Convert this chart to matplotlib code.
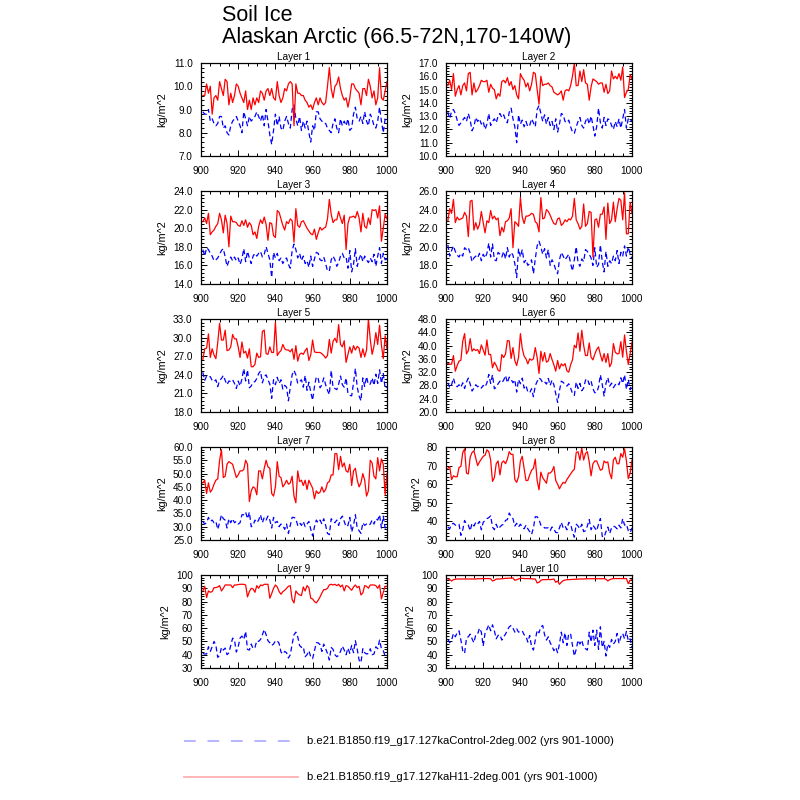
import numpy as np
import matplotlib
matplotlib.use("Agg")
import matplotlib.pyplot as plt
from matplotlib.ticker import MultipleLocator, FormatStrFormatter

plt.rcParams['font.family'] = ['Liberation Sans', 'DejaVu Sans']

years = np.arange(901, 1001)

# Layer 1
l1_h11 = [9.6, 9.6, 10.1, 9.7, 10.0, 8.8, 9.5, 9.6, 9.4, 10.2,
          9.9, 9.6, 10.3, 10.2, 9.2, 9.7, 9.3, 9.6, 10.1, 10.0,
          9.7, 9.5, 9.3, 9.8, 9.0, 9.4, 9.0, 9.5, 9.2, 9.5,
          9.3, 9.8, 9.7, 9.4, 9.8, 9.9, 9.6, 9.9, 9.5, 9.4,
          10.2, 9.6, 9.3, 9.5, 9.9, 9.8, 10.1, 10.2, 10.1, 8.3,
          10.1, 9.7, 9.7, 9.6, 9.6, 9.4, 9.3, 9.1, 9.2, 9.0,
          9.3, 9.5, 9.2, 9.5, 9.3, 9.2, 9.3, 10.0, 10.8, 9.9,
          9.5, 10.0, 10.1, 10.4, 9.9, 9.6, 9.4, 9.5, 9.1, 9.5,
          10.1, 10.1, 9.9, 9.8, 9.7, 9.2, 9.9, 9.9, 9.6, 10.3,
          10.0, 9.5, 9.8, 9.2, 9.5, 10.8, 9.5, 9.4, 9.8, 10.2]
l1_ctl = [8.9, 8.8, 8.8, 9.0, 8.5, 8.6, 8.4, 8.3, 8.4, 8.7,
          8.7, 8.2, 8.3, 8.0, 7.9, 8.3, 8.5, 8.6, 8.7, 8.5,
          8.3, 8.0, 8.9, 8.6, 8.3, 8.7, 8.5, 8.6, 8.7, 8.9,
          8.7, 8.5, 8.8, 8.3, 9.0, 8.5, 7.9, 7.5, 8.1, 8.8,
          8.3, 8.7, 8.2, 8.1, 8.5, 8.7, 8.4, 8.2, 9.0, 9.2,
          8.6, 8.3, 8.7, 8.1, 8.5, 8.2, 8.5, 8.0, 7.6, 8.3,
          8.1, 8.9, 8.9, 8.6, 8.5, 8.4, 8.4, 8.2, 8.1, 8.0,
          8.4, 8.6, 8.2, 8.0, 8.6, 8.3, 8.5, 8.3, 8.6, 8.1,
          8.2, 8.8, 9.1, 8.6, 8.5, 8.7, 8.4, 8.9, 8.5, 8.3,
          8.8, 8.6, 8.3, 8.2, 8.5, 9.1, 8.5, 8.0, 8.6, 8.5]

# Layer 2
l2_h11 = [15.3, 15.7, 15.0, 16.2, 14.5, 15.0, 15.3, 14.6, 15.3, 15.5,
          14.9, 16.2, 16.3, 14.6, 15.5, 14.8, 15.0, 15.3, 15.7, 15.6,
          15.6, 15.7, 14.8, 15.4, 15.1, 15.0, 14.3, 14.7, 14.5, 15.6,
          15.7, 15.5, 15.9, 15.3, 15.6, 15.0, 15.3, 14.6, 14.3, 16.2,
          15.9, 15.7, 15.2, 15.5, 14.9, 15.4, 16.3, 16.2, 15.0, 13.9,
          16.0, 15.3, 15.4, 15.4, 15.5, 15.3, 15.2, 14.8, 14.7, 14.6,
          14.7, 14.9, 14.2, 14.9, 15.0, 14.9, 15.3, 16.0, 17.0, 15.3,
          15.3, 16.4, 15.6, 16.5, 15.5, 15.4, 14.2, 15.2, 15.8, 15.7,
          15.6, 15.4, 15.5, 15.5, 14.8, 15.4, 14.7, 14.9, 16.4, 15.8,
          16.0, 15.8, 16.2, 15.7, 16.7, 14.4, 14.8, 15.0, 16.1, 15.8]
l2_ctl = [13.3, 12.8, 13.4, 13.5, 13.2, 12.7, 12.3, 12.5, 12.7, 12.9,
          12.6, 13.2, 12.7, 11.9, 12.2, 12.9, 12.6, 12.8, 12.4, 12.6,
          12.0, 12.4, 13.2, 12.3, 12.6, 12.8, 12.5, 13.0, 13.2, 12.9,
          13.1, 12.7, 12.5, 13.3, 13.6, 12.8, 12.2, 11.0, 13.1, 12.4,
          12.7, 12.2, 12.6, 12.2, 12.3, 12.8, 12.5, 12.2, 13.5, 13.8,
          13.2, 12.6, 13.1, 12.4, 12.9, 12.3, 12.6, 12.0, 12.8, 11.8,
          12.4, 13.2, 13.1, 12.6, 12.5, 12.7, 12.2, 11.8, 11.7, 12.2,
          12.6, 12.9, 12.3, 12.1, 12.6, 12.9, 12.4, 13.0, 12.3, 11.5,
          12.2, 13.6, 12.5, 12.1, 12.9, 12.3, 12.8, 12.7, 12.3, 12.0,
          12.6, 12.2, 12.8, 12.1, 12.8, 13.5, 12.1, 12.8, 12.6, 12.7]

# Layer 3
l3_h11 = [20.7, 21.1, 20.5, 21.6, 19.3, 19.6, 19.8, 20.2, 20.5, 21.6,
          20.9, 19.5, 21.4, 20.5, 18.0, 21.3, 20.7, 20.7, 20.6, 20.3,
          20.2, 20.8, 20.3, 20.9, 20.1, 20.6, 20.3, 19.3, 19.6, 18.9,
          20.2, 20.9, 20.5, 21.2, 20.4, 18.7, 20.6, 20.5, 19.2, 19.0,
          21.9, 21.7, 21.0, 20.3, 19.8, 20.7, 20.5, 21.0, 20.8, 18.5,
          22.1, 20.3, 20.1, 20.7, 20.8, 20.4, 20.0, 19.7, 19.4, 19.3,
          19.9, 18.8, 19.5, 20.1, 19.8, 20.0, 20.1, 21.0, 23.1, 21.5,
          20.6, 20.9, 20.9, 21.8, 21.1, 20.5, 21.4, 17.7, 20.5, 21.2,
          21.2, 21.3, 21.1, 21.8, 21.1, 19.6, 21.6, 20.2, 20.0, 21.1,
          20.4, 22.0, 21.9, 22.0, 21.1, 22.4, 18.6, 20.0, 21.5, 21.0]
l3_ctl = [17.7, 17.0, 17.9, 17.7, 17.3, 17.0, 16.5, 16.6, 16.8, 17.2,
          17.6, 17.8, 16.9, 15.9, 16.5, 16.9, 16.5, 16.9, 16.5, 16.8,
          16.1, 16.7, 17.8, 16.4, 17.5, 16.8, 16.2, 17.0, 17.3, 17.0,
          17.3, 17.5, 16.9, 17.2, 18.0, 17.3, 16.6, 14.7, 17.4, 16.8,
          17.3, 16.5, 16.8, 16.2, 16.6, 16.8, 16.1, 15.7, 17.6, 18.3,
          17.7, 16.8, 17.3, 16.5, 17.0, 16.2, 16.5, 15.8, 17.0, 15.9,
          16.7, 17.4, 17.3, 16.6, 16.5, 16.9, 16.2, 15.4, 15.4, 16.6,
          17.0, 16.6, 15.9, 16.3, 17.0, 17.3, 16.8, 16.9, 15.7, 17.6,
          15.3, 16.1, 17.8, 15.9, 16.7, 17.2, 16.4, 17.0, 16.6, 16.3,
          16.8, 16.4, 17.2, 15.9, 17.0, 17.9, 16.2, 17.3, 16.6, 16.7]

# Layer 4
l4_h11 = [22.8, 24.1, 23.6, 25.1, 22.6, 23.2, 22.9, 23.0, 23.1, 23.7,
          23.3, 21.1, 24.9, 25.0, 21.8, 22.6, 21.9, 22.4, 23.8, 22.6,
          21.5, 22.8, 22.6, 23.9, 23.0, 23.3, 22.9, 23.1, 21.2, 22.1,
          21.6, 22.7, 22.8, 23.1, 24.1, 19.9, 22.7, 22.5, 22.2, 25.3,
          23.2, 22.5, 23.3, 23.3, 23.4, 23.6, 23.5, 22.7, 22.5, 21.6,
          25.3, 23.0, 23.1, 24.0, 23.8, 23.4, 22.9, 22.5, 22.4, 23.0,
          23.1, 22.3, 22.5, 22.9, 22.7, 23.0, 22.9, 23.3, 25.2, 22.9,
          22.5, 21.9, 22.2, 24.6, 22.2, 22.5, 23.8, 23.7, 18.9, 22.9,
          23.0, 22.1, 23.5, 23.5, 24.3, 20.8, 24.7, 22.5, 22.9, 24.8,
          22.7, 24.1, 25.2, 25.0, 22.9, 25.8, 21.4, 21.4, 24.8, 23.6]
l4_ctl = [20.2, 19.0, 19.6, 20.1, 19.5, 19.1, 18.9, 19.3, 19.0, 19.9,
          19.7, 19.9, 19.3, 18.4, 18.8, 19.0, 18.8, 19.3, 18.5, 19.2,
          18.8, 19.3, 20.4, 18.9, 20.3, 18.6, 18.5, 19.4, 19.2, 18.9,
          19.5, 18.7, 19.9, 18.9, 19.4, 19.1, 18.2, 16.7, 19.8, 18.9,
          19.7, 18.3, 18.6, 18.0, 18.2, 18.6, 17.1, 18.7, 20.1, 20.6,
          20.0, 19.2, 19.8, 18.8, 19.7, 18.0, 18.6, 18.2, 17.5, 17.1,
          18.6, 19.4, 19.0, 18.6, 18.9, 19.2, 18.2, 17.4, 18.6, 20.0,
          18.3, 17.9, 18.7, 18.4, 19.7, 19.5, 19.2, 18.8, 18.0, 19.9,
          17.8, 18.1, 20.2, 18.4, 17.3, 19.5, 17.9, 18.5, 18.2, 19.0,
          18.5, 19.6, 18.2, 19.4, 19.0, 20.1, 19.0, 20.0, 19.2, 18.7]

# Layer 5
l5_h11 = [26.5, 28.2, 28.3, 30.6, 26.8, 28.2, 27.2, 26.6, 29.2, 32.3,
          29.6, 29.6, 31.2, 27.9, 28.0, 28.5, 30.5, 29.8, 29.8, 28.5,
          26.8, 29.3, 27.5, 27.8, 26.7, 28.2, 25.3, 25.3, 25.7, 27.5,
          26.8, 26.9, 31.0, 31.2, 27.4, 27.3, 28.5, 27.6, 27.6, 32.5,
          27.1, 27.6, 27.9, 28.9, 28.2, 28.0, 28.0, 27.7, 28.2, 26.5,
          28.7, 26.2, 27.3, 27.5, 27.3, 27.9, 28.3, 26.3, 27.2, 29.6,
          27.7, 27.6, 27.6, 27.6, 27.4, 27.1, 26.7, 27.1, 29.7, 27.5,
          29.4, 29.9, 29.2, 32.1, 28.9, 28.5, 29.5, 26.0, 27.3, 28.5,
          27.5, 28.7, 28.0, 28.6, 28.3, 26.8, 28.2, 26.9, 28.0, 33.0,
          29.7, 27.3, 28.6, 30.8, 28.9, 32.0, 28.8, 26.6, 30.3, 28.2]
l5_ctl = [24.4, 23.1, 23.8, 23.6, 23.7, 23.1, 22.9, 23.2, 22.1, 23.1,
          23.4, 23.9, 23.1, 22.4, 23.0, 22.9, 23.2, 22.6, 21.8, 23.0,
          22.2, 23.3, 25.0, 23.0, 24.8, 21.9, 22.2, 22.8, 22.9, 23.4,
          24.2, 24.6, 22.7, 23.7, 24.0, 23.2, 22.5, 20.2, 23.2, 22.4,
          23.6, 22.6, 23.2, 21.7, 22.3, 22.0, 19.8, 22.0, 24.0, 24.7,
          24.0, 22.6, 22.9, 23.2, 22.0, 23.9, 21.5, 22.8, 21.2, 19.9,
          22.1, 23.7, 23.4, 21.9, 22.4, 23.5, 22.4, 21.5, 20.8, 24.7,
          21.9, 21.8, 21.6, 22.5, 23.8, 22.4, 22.0, 23.5, 21.0, 20.7,
          20.6, 22.7, 25.0, 22.0, 20.6, 19.8, 23.5, 22.1, 23.7, 22.4,
          22.5, 23.5, 22.3, 24.1, 22.6, 24.8, 22.6, 24.2, 21.8, 22.1]

# Layer 6
l6_h11 = [34.6, 34.4, 34.4, 37.0, 32.3, 34.0, 35.3, 35.6, 41.3, 43.6,
          37.5, 38.5, 42.1, 38.3, 39.0, 38.5, 38.8, 37.6, 40.2, 38.7,
          37.1, 41.7, 37.3, 37.3, 33.3, 35.0, 34.0, 32.6, 32.3, 37.3,
          36.4, 37.5, 41.5, 41.4, 36.1, 39.4, 35.5, 34.0, 36.5, 43.6,
          39.1, 36.8, 36.0, 34.5, 36.0, 35.6, 36.0, 39.4, 36.4, 31.6,
          38.3, 35.3, 37.9, 35.0, 35.4, 37.6, 35.8, 34.2, 32.3, 35.5,
          33.0, 34.5, 33.9, 34.6, 32.4, 32.0, 34.2, 35.7, 40.1, 39.3,
          43.8, 38.3, 44.6, 40.1, 37.0, 37.0, 40.8, 36.5, 35.7, 37.4,
          38.8, 39.6, 37.3, 35.3, 37.6, 34.9, 37.6, 33.6, 34.8, 40.6,
          38.0, 37.5, 37.6, 41.2, 36.5, 43.2, 38.2, 34.3, 37.5, 41.0]
l6_ctl = [28.8, 27.3, 28.2, 30.2, 28.1, 27.6, 28.2, 27.4, 28.8, 27.1,
          29.0, 30.2, 28.4, 26.3, 27.2, 28.2, 27.6, 27.9, 27.2, 28.0,
          27.5, 28.8, 31.3, 28.6, 31.2, 27.0, 27.4, 28.5, 29.3, 28.8,
          29.6, 31.0, 28.8, 30.5, 29.8, 28.8, 29.7, 26.0, 29.8, 28.5,
          30.2, 27.2, 28.0, 26.0, 25.8, 27.0, 24.6, 27.9, 29.2, 30.3,
          29.8, 28.8, 29.1, 28.4, 30.1, 28.0, 29.6, 28.2, 25.5, 22.9,
          26.4, 29.3, 28.9, 28.3, 27.8, 28.5, 27.2, 25.6, 25.0, 29.0,
          27.1, 28.6, 26.4, 27.2, 29.6, 30.0, 28.3, 29.3, 27.0, 25.8,
          25.9, 27.5, 31.2, 28.3, 24.8, 28.6, 30.4, 27.8, 28.7, 27.3,
          28.2, 28.8, 28.2, 30.3, 28.6, 31.2, 26.8, 29.8, 26.7, 28.5]

# Layer 7
l7_h11 = [46.5, 47.5, 42.5, 46.5, 43.0, 44.0, 46.0, 47.5, 48.0, 55.0,
          59.0, 48.5, 49.0, 53.5, 54.5, 54.0, 53.5, 51.0, 48.5, 49.5,
          51.0, 51.0, 51.5, 55.0, 53.5, 39.5, 43.5, 45.0, 44.5, 42.0,
          51.0, 51.0, 48.0, 52.0, 55.0, 52.5, 52.0, 42.5, 41.5, 45.0,
          54.5, 49.0, 48.5, 45.0, 46.0, 47.5, 46.0, 46.5, 49.0, 41.5,
          39.0, 51.0, 47.0, 47.5, 45.5, 47.5, 44.0, 47.5, 46.0, 44.5,
          40.5, 43.5, 42.5, 43.0, 45.0, 43.0, 44.0, 46.5, 47.0, 49.5,
          49.5, 57.5, 57.5, 51.5, 56.5, 52.5, 54.0, 51.0, 50.5, 53.5,
          45.5, 51.0, 52.0, 47.5, 45.0, 46.5, 50.0, 47.5, 41.5, 43.5,
          55.0, 54.0, 49.0, 48.0, 56.0, 51.0, 55.5, 53.5, 42.0, 50.0]
l7_ctl = [32.0, 31.0, 31.5, 33.5, 32.0, 32.5, 31.5, 32.0, 29.0, 31.5,
          34.5, 33.0, 32.5, 29.5, 33.0, 31.5, 33.0, 31.5, 32.0, 31.0,
          31.5, 34.5, 34.5, 35.5, 33.0, 35.5, 30.0, 30.5, 32.5, 31.5,
          32.5, 34.5, 31.5, 33.5, 32.5, 34.0, 32.5, 29.5, 33.5, 31.5,
          32.0, 30.0, 31.0, 30.5, 29.0, 31.0, 27.5, 30.5, 33.5, 33.5,
          33.0, 30.5, 31.5, 30.5, 32.0, 30.0, 31.0, 32.0, 29.0, 26.5,
          30.0, 32.5, 31.5, 32.5, 31.0, 33.0, 30.5, 27.5, 27.0, 33.0,
          32.0, 31.5, 32.5, 30.5, 33.0, 34.0, 32.0, 30.0, 30.5, 33.5,
          28.0, 30.5, 34.5, 29.5, 28.5, 27.5, 31.5, 30.5, 31.0, 30.5,
          31.0, 32.5, 31.0, 33.0, 32.5, 34.5, 29.5, 34.0, 29.5, 30.0]

# Layer 8
l8_h11 = [68.5, 69.5, 62.5, 64.5, 64.0, 64.0, 69.0, 69.5, 77.0, 79.0,
          66.0, 65.5, 74.5, 77.0, 78.0, 74.0, 70.0, 72.0, 73.5, 75.0,
          75.5, 78.5, 77.5, 73.0, 61.5, 63.5, 71.0, 72.5, 65.0, 71.5,
          72.5, 71.0, 73.5, 77.5, 76.0, 76.0, 62.5, 61.0, 64.0, 72.5,
          75.0, 68.5, 62.0, 62.0, 65.0, 67.5, 68.5, 73.5, 62.0, 57.0,
          66.5, 63.5, 62.0, 60.5, 66.0, 66.0, 67.0, 69.5, 62.0, 60.0,
          57.5, 59.5, 61.0, 60.5, 62.5, 64.0, 65.5, 67.0, 68.0, 77.0,
          77.5, 73.0, 79.5, 73.0, 76.5, 77.5, 72.0, 64.5, 71.0, 72.5,
          72.5, 70.0, 67.5, 68.0, 72.5, 71.5, 72.0, 66.0, 63.0, 73.0,
          74.5, 71.0, 71.0, 76.5, 74.5, 79.0, 72.5, 63.0, 66.0, 73.0]
l8_ctl = [37.0, 36.0, 38.5, 39.0, 38.0, 38.0, 38.5, 32.5, 35.5, 40.5,
          38.5, 38.0, 35.0, 39.0, 37.5, 39.5, 38.5, 40.0, 35.5, 39.5,
          40.5, 41.5, 42.0, 43.0, 37.0, 35.5, 38.5, 36.0, 37.0, 38.0,
          38.5, 40.5, 41.0, 44.5, 42.5, 41.5, 37.5, 39.0, 37.0, 38.5,
          37.0, 36.0, 38.0, 36.0, 34.5, 33.0, 36.5, 42.5, 42.5, 41.0,
          38.0, 37.5, 36.5, 36.5, 36.5, 35.0, 37.0, 36.0, 34.0, 34.0,
          36.5, 39.5, 36.5, 37.5, 35.5, 39.5, 38.5, 34.5, 31.5, 38.5,
          37.5, 36.0, 38.5, 34.5, 35.0, 37.5, 41.0, 35.5, 38.0, 36.5,
          35.0, 38.5, 41.5, 32.0, 31.5, 34.5, 37.0, 33.5, 36.5, 37.5,
          37.0, 36.0, 38.0, 36.5, 41.5, 38.0, 38.5, 35.0, 34.0, 36.5]

# Layer 9
l9_h11 = [88.0, 91.5, 83.0, 88.0, 87.0, 87.5, 90.5, 90.5, 91.0, 92.0,
          88.0, 90.0, 92.5, 92.5, 92.5, 92.5, 90.5, 92.5, 92.5, 92.8,
          93.0, 93.0, 93.0, 92.5, 83.5, 87.5, 90.0, 89.5, 87.0, 92.0,
          90.0, 92.5, 92.0, 93.0, 93.0, 93.0, 82.5, 86.0, 90.0, 92.5,
          91.0, 87.5, 85.5, 87.5, 88.5, 90.0, 91.5, 92.0, 81.5, 79.0,
          88.0, 86.0, 85.0, 84.5, 91.0, 88.0, 92.0, 90.5, 82.5, 82.0,
          80.0, 79.0, 81.0, 83.5, 86.5, 89.0, 89.0, 90.0, 92.5, 93.0,
          92.5, 93.0, 92.0, 93.0, 91.0, 92.5, 88.0, 92.0, 91.5, 90.0,
          88.5, 91.0, 92.5, 90.5, 91.5, 85.0, 86.5, 92.0, 91.5, 90.0,
          92.5, 92.5, 92.5, 92.0, 90.0, 92.5, 82.0, 87.0, 91.5, 91.5]
l9_ctl = [41.0, 40.5, 40.5, 46.0, 42.5, 46.0, 50.0, 47.0, 38.0, 39.5,
          45.5, 43.5, 45.0, 40.0, 41.5, 47.0, 52.5, 51.0, 42.0, 46.0,
          52.5, 54.0, 51.5, 57.5, 44.0, 43.5, 48.0, 44.5, 45.5, 50.5,
          50.0, 51.5, 55.0, 59.0, 55.0, 50.5, 49.0, 47.0, 48.0, 50.5,
          50.5, 48.5, 42.0, 40.5, 42.5, 41.5, 37.5, 40.0, 48.0, 55.0,
          57.0, 53.5, 47.0, 45.5, 46.0, 38.5, 40.0, 43.0, 38.5, 37.0,
          43.0, 49.0, 49.0, 47.5, 42.5, 48.0, 44.5, 41.0, 36.0, 45.5,
          44.0, 40.0, 38.5, 39.5, 42.5, 46.5, 43.5, 40.0, 45.0, 41.0,
          47.0, 41.5, 50.5, 44.0, 36.0, 34.0, 44.5, 41.5, 40.5, 41.0,
          44.5, 40.0, 40.5, 46.0, 44.5, 51.0, 44.5, 43.0, 39.0, 38.5]

# Layer 10
l10_h11 = [97.0, 96.5, 95.5, 96.5, 96.8, 97.0, 97.0, 97.0, 97.0, 97.0,
           97.0, 97.0, 97.0, 97.0, 97.0, 97.0, 97.2, 97.2, 97.2, 97.3,
           97.3, 97.3, 97.3, 97.2, 95.5, 96.0, 97.0, 97.0, 97.0, 97.2,
           97.3, 97.5, 97.5, 97.6, 97.7, 97.8, 96.0, 96.5, 97.0, 97.5,
           97.5, 97.3, 97.3, 97.3, 97.2, 97.2, 97.0, 97.0, 94.0, 94.5,
           96.0, 96.5, 96.5, 96.5, 96.7, 96.5, 96.7, 97.0, 94.5, 95.5,
           93.0, 94.5, 95.8, 96.2, 96.5, 96.5, 96.6, 96.7, 96.8, 96.8,
           96.9, 97.0, 97.0, 97.0, 97.1, 97.2, 97.2, 97.2, 97.2, 97.2,
           97.2, 97.2, 97.2, 97.2, 97.3, 96.8, 95.5, 96.5, 97.0, 97.3,
           97.3, 97.3, 97.3, 97.3, 97.3, 97.3, 97.3, 93.5, 96.0, 96.5]
l10_ctl = [51.5, 49.0, 51.0, 56.0, 53.5, 56.5, 58.0, 51.0, 43.0, 41.0,
           52.5, 53.5, 55.5, 52.0, 49.0, 55.0, 55.5, 60.0, 57.0, 46.5,
           56.5, 59.0, 62.5, 58.0, 62.5, 58.0, 52.0, 54.5, 55.0, 51.0,
           53.5, 55.5, 58.5, 61.0, 62.0, 60.0, 57.0, 59.5, 57.0, 57.5,
           58.0, 55.0, 54.0, 49.5, 54.5, 46.0, 43.5, 51.0, 58.5, 56.5,
           61.0, 62.0, 55.0, 51.0, 53.5, 49.0, 46.5, 43.0, 45.5, 41.5,
           48.0, 57.0, 49.0, 56.5, 47.0, 56.0, 55.5, 47.0, 39.0, 44.0,
           51.0, 48.0, 51.0, 45.5, 44.5, 43.5, 57.0, 49.5, 58.5, 47.0,
           58.5, 44.0, 61.0, 45.5, 50.0, 39.0, 48.0, 45.5, 51.5, 48.0,
           50.0, 56.0, 48.5, 53.5, 56.0, 52.0, 57.5, 50.5, 52.0, 45.0]

h11_series = [l1_h11, l2_h11, l3_h11, l4_h11, l5_h11, l6_h11, l7_h11, l8_h11, l9_h11, l10_h11]
ctl_series = [l1_ctl, l2_ctl, l3_ctl, l4_ctl, l5_ctl, l6_ctl, l7_ctl, l8_ctl, l9_ctl, l10_ctl]

# y axis (min, max, major step, label format)
y_ranges = [(7.0, 11.0, 1.0, '%.1f'), (10.0, 17.0, 1.0, '%.1f'),
            (14.0, 24.0, 2.0, '%.1f'), (16.0, 26.0, 2.0, '%.1f'),
            (18.0, 33.0, 3.0, '%.1f'), (20.0, 48.0, 4.0, '%.1f'),
            (25.0, 60.0, 5.0, '%.1f'), (30, 80, 10, '%d'),
            (30, 100, 10, '%d'), (30, 100, 10, '%d')]

ctl_name = "b.e21.B1850.f19_g17.127kaControl-2deg.002 (yrs 901-1000)"
h11_name = "b.e21.B1850.f19_g17.127kaH11-2deg.001 (yrs 901-1000)"

fig = plt.figure(figsize=(8, 8), dpi=100)

W, H = 800.0, 800.0
col_left = [201, 446]
row_top = [63, 191, 319, 447, 575]
pw, ph = 186, 93

for i in range(10):
    r, c = i // 2, i % 2
    ax = fig.add_axes([col_left[c] / W, 1 - (row_top[r] + ph) / H, pw / W, ph / H])
    ax.plot(years, ctl_series[i], color='blue', lw=0.9, dashes=(4, 2.5))
    ax.plot(years, h11_series[i], color='red', lw=0.9)
    ymin, ymax, step, fmt = y_ranges[i]
    ax.set_xlim(900, 1000)
    ax.set_ylim(ymin, ymax)
    ax.xaxis.set_major_locator(MultipleLocator(20))
    ax.xaxis.set_minor_locator(MultipleLocator(5))
    ax.yaxis.set_major_locator(MultipleLocator(step))
    ax.yaxis.set_minor_locator(MultipleLocator(step / 5))
    ax.yaxis.set_major_formatter(FormatStrFormatter(fmt))
    ax.tick_params(which='both', direction='in', top=True, right=True,
                   labelsize=7.2, width=0.7)
    ax.tick_params(axis='y', which='major', length=4.5, pad=6)
    ax.tick_params(axis='x', which='major', length=4.5, pad=7)
    ax.tick_params(which='minor', length=2.5)
    for s in ax.spines.values():
        s.set_linewidth(0.9)
    ax.set_title("Layer %d" % (i + 1), fontsize=7.2, pad=2)
    ax.set_ylabel("kg/m^2", fontsize=7.8, labelpad=4)

fig.text(222 / W, 1 - 21 / H, "Soil Ice", fontsize=15.5, ha='left', va='baseline')
fig.text(222 / W, 1 - 43 / H, "Alaskan Arctic (66.5-72N,170-140W)",
         fontsize=15.5, ha='left', va='baseline')

# legend drawn by hand in figure coordinates
fig.add_artist(plt.Line2D([184 / W, 291 / W], [1 - 741 / H, 1 - 741 / H],
                          color='#b0b0ff', lw=1.3, dashes=(6.5, 6.5)))
fig.add_artist(plt.Line2D([184 / W, 298 / W], [1 - 777 / H, 1 - 777 / H],
                          color='#ffb0b0', lw=1.3))
fig.text(307 / W, 1 - 741 / H, ctl_name, fontsize=8.1, va='center', ha='left')
fig.text(307 / W, 1 - 777 / H, h11_name, fontsize=8.1, va='center', ha='left')

fig.savefig("out.png", dpi=100)
